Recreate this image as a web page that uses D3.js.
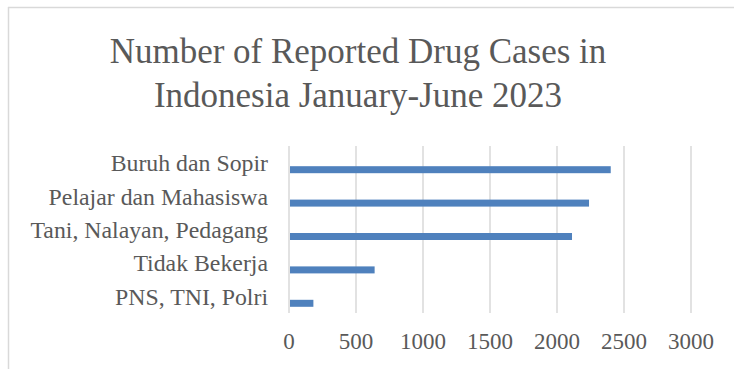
<!DOCTYPE html>
<html>
<head>
<meta charset="utf-8">
<script src="https://cdn.jsdelivr.net/npm/d3@7"></script>
<style>
  html, body { margin: 0; padding: 0; background: #fff; }
  svg { display: block; }
  svg text { font-family: "Liberation Serif", "Times New Roman", Times, serif; }
</style>
</head>
<body>
<svg id="chart" width="734" height="369"></svg>
<script>
// ---- data ----
const titleLines = ["Number of Reported Drug Cases in", "Indonesia January-June 2023"];
const categories = ["Buruh dan Sopir", "Pelajar dan Mahasiswa", "Tani, Nalayan, Pedagang", "Tidak Bekerja", "PNS, TNI, Polri"];
const values = [2401, 2239, 2112, 639, 182];
const tickValues = [0, 500, 1000, 1500, 2000, 2500, 3000];

// ---- drawing ----
const W = 734, H = 369;
const svg = d3.select("#chart");
const textColor = "#595959";
const gridColor = "#d9d9d9";
const barColor = "#4f81bd";

// frame of the chart area
svg.append("line").attr("x1", 8).attr("x2", W).attr("y1", 7.5).attr("y2", 7.5)
  .attr("stroke", gridColor).attr("stroke-width", 1.5);
svg.append("line").attr("x1", 8.5).attr("x2", 8.5).attr("y1", 7).attr("y2", H)
  .attr("stroke", gridColor).attr("stroke-width", 1.5);

// title
svg.append("text")
  .attr("x", 358).attr("y", 63)
  .attr("text-anchor", "middle")
  .style("font-size", "35px").attr("fill", textColor)
  .selectAll("tspan").data(titleLines).join("tspan")
  .attr("x", 358).attr("dy", (d, i) => i === 0 ? 0 : 44)
  .text(d => d);

const plotTop = 146, plotBottom = 313;
const x = d3.scaleLinear().domain([0, 3000]).range([289, 691]);
const y = d3.scaleBand().domain(categories).range([plotTop, plotBottom]);

// gridlines
svg.append("g").selectAll("line").data(tickValues).join("line")
  .attr("x1", d => x(d)).attr("x2", d => x(d))
  .attr("y1", plotTop).attr("y2", plotBottom)
  .attr("stroke", gridColor).attr("stroke-width", 1.5);

// bars
const barH = 7;
const barShift = 7;
svg.append("g").selectAll("rect").data(categories).join("rect")
  .attr("x", x(0) + 1)
  .attr("y", d => y(d) + y.bandwidth() / 2 - barH / 2 + barShift)
  .attr("width", (d, i) => x(values[i]) - x(0) - 1)
  .attr("height", barH)
  .attr("fill", barColor);

// category labels
svg.append("g").selectAll("text").data(categories).join("text")
  .attr("x", 268)
  .attr("y", d => y(d) + y.bandwidth() / 2 + 8.5)
  .attr("text-anchor", "end")
  .style("font-size", "23.8px").attr("fill", textColor)
  .text(d => d);

// x tick labels
svg.append("g").selectAll("text").data(tickValues).join("text")
  .attr("x", d => x(d))
  .attr("y", 349)
  .attr("text-anchor", "middle")
  .style("font-size", "23px").attr("fill", textColor)
  .text(d => d);
</script>
</body>
</html>
